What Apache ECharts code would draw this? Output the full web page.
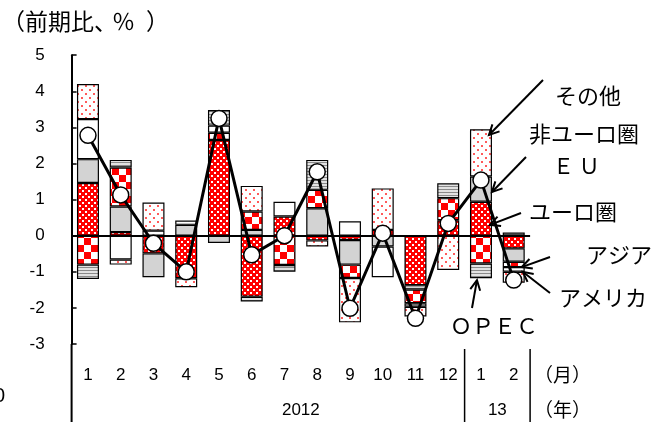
<!DOCTYPE html>
<html>
<head>
<meta charset="utf-8">
<script src="https://cdn.jsdelivr.net/npm/echarts@6/dist/echarts.min.js"></script>
<style>
  html, body { margin: 0; padding: 0; background: #fff; }
  #chart { width: 652px; height: 422px; }
</style>
</head>
<body>
<div id="chart"></div>
<script>
// Month labels (2012/1 .. 2013/2)
const months = ['1','2','3','4','5','6','7','8','9','10','11','12','1','2'];
// year label sits at a category position (fractional index)
const yearGroups = [
  { label: '2012', first: 0, last: 11, at: 6.5 },
  { label: '13', first: 12, last: 13, at: 12.5 }
];

// Contribution by destination (percentage points)
const euroArea  = [ 1.46, 0.10,-0.49,-1.18, 2.65,-1.69, 0.53,-0.13,-0.12, 0.16,-1.37, 0.43, 0.94,-0.35];
const nonEuroEU = [ 0.66, 0.71,-0.66, 0.30,-0.20, 0.16, 0,    0.76,-0.68,-0.30,-0.12, 0,    0.70,-0.37];
const asia      = [-0.80, 1.08, 0,    0,    0.20, 0.51,-0.81, 0.51,-0.37, 0,   -0.38, 0.61,-0.77,-0.15];
const usa       = [ 1.11,-0.66, 0.14, 0.12, 0.20, 0,    0.41, 0,    0.40,-0.85, 0,    0,    0,   -0.13];
const opec      = [-0.40, 0.21, 0,    0,    0.43,-0.13,-0.19, 0.83, 0,    0,   -0.10, 0.41,-0.41, 0.09];
const others    = [ 0.97,-0.14, 0.78,-0.25, 0,    0.71, 0,   -0.17,-1.23, 1.15,-0.27,-0.95, 1.31,-0.30];
// Total change from previous period (%)
const total     = [ 2.78, 1.13,-0.21,-1.00, 3.25,-0.53, 0.00, 1.77,-2.01, 0.07,-2.29, 0.34, 1.54,-1.23];

const yMin = -3, yMax = 5, yStep = 1;

const NUM_FONT = '"Liberation Sans", Arial, sans-serif';
const JP_FONT = '"Noto Sans CJK JP", "Noto Sans", sans-serif';

// Fill patterns
function tile(w, h, draw) {
  const c = document.createElement('canvas');
  c.width = w; c.height = h;
  const g = c.getContext('2d');
  draw(g, w, h);
  return { image: c, repeat: 'repeat' };
}
const fillEuro = tile(6, 6, (g) => {
  g.fillStyle = '#ff0000'; g.fillRect(0, 0, 6, 6);
  g.fillStyle = '#ffffff'; g.fillRect(1, 1, 2, 2); g.fillRect(4, 4, 2, 2);
});
const fillOthers = tile(8, 8, (g) => {
  g.fillStyle = '#ffffff'; g.fillRect(0, 0, 8, 8);
  g.fillStyle = '#ff5a5a'; g.fillRect(1, 1, 2, 2); g.fillRect(5, 5, 2, 2);
});
const fillAsia = tile(14, 14, (g) => {
  g.fillStyle = '#ffffff'; g.fillRect(0, 0, 14, 14);
  g.fillStyle = '#ff0000'; g.fillRect(0, 0, 7, 7); g.fillRect(7, 7, 7, 7);
});
const fillOpec = tile(4, 3, (g) => {
  g.fillStyle = '#e2e2e2'; g.fillRect(0, 0, 4, 3);
  g.fillStyle = '#8a8a8a'; g.fillRect(0, 0, 4, 1);
});

const nz = (arr) => arr.map(v => (v === 0 ? '-' : v));

function barSeries(name, data, color) {
  return {
    name, type: 'bar', stack: 'contrib', barWidth: 22,
    data: nz(data),
    itemStyle: { color, borderColor: '#000', borderWidth: 1.2 },
    emphasis: { disabled: true },
    z: 2
  };
}

const chart = echarts.init(document.getElementById('chart'), null, { renderer: 'canvas' });

chart.setOption({
  animation: false,
  grid: { left: 71.6, right: 121.9, top: 55.2, bottom: 78 },
  xAxis: {
    type: 'category', data: months,
    axisLine: { show: false }, axisTick: { show: false },
    axisLabel: { color: '#000', fontSize: 17, fontFamily: NUM_FONT, margin: 23, interval: 0 }
  },
  yAxis: {
    type: 'value', min: yMin, max: yMax, interval: yStep,
    axisLine: { show: true, lineStyle: { color: '#000', width: 2 } },
    axisTick: { show: true, inside: true, length: 5, lineStyle: { color: '#000', width: 1.5 } },
    axisLabel: { color: '#000', fontSize: 17, fontFamily: NUM_FONT, margin: 27 },
    splitLine: { show: false }
  },
  series: [
    barSeries('ユーロ圏', euroArea, fillEuro),
    barSeries('非ユーロ圏ＥＵ', nonEuroEU, '#d3d3d3'),
    barSeries('アジア', asia, fillAsia),
    barSeries('アメリカ', usa, '#ffffff'),
    barSeries('ＯＰＥＣ', opec, fillOpec),
    barSeries('その他', others, fillOthers),
    {
      // zero baseline
      type: 'line', data: months.map(() => '-'), z: 5, silent: true,
      markLine: {
        silent: true, symbol: 'none', animation: false,
        label: { show: false },
        lineStyle: { color: '#000', width: 2, type: 'solid' },
        data: [{ yAxis: 0 }]
      }
    },
    {
      name: '合計', type: 'line', data: total, z: 10,
      lineStyle: { color: '#000', width: 3 },
      symbol: 'circle', symbolSize: 16,
      itemStyle: { color: '#fff', borderColor: '#000', borderWidth: 1.5 },
      emphasis: { disabled: true }
    }
  ]
});

// Annotations positioned from the axes
const px = (i, v) => chart.convertToPixel({ gridIndex: 0 }, [i, v]);
const bottomY = px(0, yMin)[1];
const x0 = px(0, 0)[0];
const catW = px(1, 0)[0] - x0;
const leftEdge = x0 - catW / 2;
const catX = (pos) => x0 + pos * catW;

function arrow(from, to) {
  const dx = to[0] - from[0], dy = to[1] - from[1];
  const len = Math.hypot(dx, dy), ux = dx / len, uy = dy / len;
  const hl = 10, hw = 5;
  const b = [to[0] - ux * hl, to[1] - uy * hl];
  const p1 = [b[0] - uy * hw, b[1] + ux * hw];
  const p2 = [b[0] + uy * hw, b[1] - ux * hw];
  return [
    { type: 'line', shape: { x1: from[0], y1: from[1], x2: to[0], y2: to[1] }, style: { stroke: '#000', lineWidth: 2 }, z: 20 },
    { type: 'polyline', shape: { points: [p1, to, p2] }, style: { stroke: '#000', lineWidth: 2, fill: null }, z: 20 }
  ];
}
function txt(text, x, y, font, size, align) {
  return { type: 'text', x, y, z: 20,
    style: { text, fill: '#000', font: size + 'px ' + font, textAlign: align || 'left', textVerticalAlign: 'middle' } };
}

const g = [];
// unit note
g.push(txt('（前期比、', 2, 21, JP_FONT, 23));
g.push(txt('％', 112, 21, JP_FONT, 23));
g.push(txt('）', 146, 21, JP_FONT, 23));
g.push(txt('0', -6, 396, NUM_FONT, 20));

// extension of the value axis through the label area
g.push({ type: 'line', shape: { x1: leftEdge, y1: bottomY, x2: leftEdge, y2: 422 }, style: { stroke: '#000', lineWidth: 2 } });

// year separators and year labels
const sepTop = bottomY + 5;
yearGroups.forEach(gr => {
  const right = catX(gr.last) + catW / 2;
  g.push({ type: 'line', shape: { x1: right, y1: sepTop, x2: right, y2: 422 }, style: { stroke: '#000', lineWidth: 1.5 } });
  g.push(txt(gr.label, catX(gr.at), 410, NUM_FONT, 17, 'center'));
});
const endX = catX(months.length - 1) + catW / 2;
g.push(txt('（月）', endX + 4, 375, JP_FONT, 19));
g.push(txt('（年）', endX + 4, 410, JP_FONT, 19));

// series callouts
const jan13 = 12, feb13 = 13;
const cJ = catX(jan13), cF = catX(feb13);
const vy = (v) => px(0, v)[1];
g.push(txt('その他', 555, 96, JP_FONT, 22));
g.push(...arrow([543, 80], [cJ + 8, vy(2.79)]));
g.push(txt('非ユーロ圏', 529, 134, JP_FONT, 22));
g.push(txt('Ｅ Ｕ', 553, 166, JP_FONT, 21));
g.push(...arrow([526, 157], [cJ + 11, vy(1.21)]));
g.push(txt('ユーロ圏', 529, 212, JP_FONT, 22));
g.push(...arrow([521, 213], [cJ + 9, vy(0.30)]));
g.push(txt('アジア', 586, 255, JP_FONT, 22));
g.push(...arrow([550, 257], [cF + 8, vy(-0.87)]));
g.push(txt('アメリカ', 559, 298, JP_FONT, 22));
g.push(...arrow([550, 293], [cF + 9, vy(-1.0)]));
g.push(txt('ＯＰＥＣ', 450, 326, JP_FONT, 22));
g.push(...arrow([472, 308], [cJ - 4, vy(-1.23)]));

chart.setOption({ graphic: g });
</script>
</body>
</html>
